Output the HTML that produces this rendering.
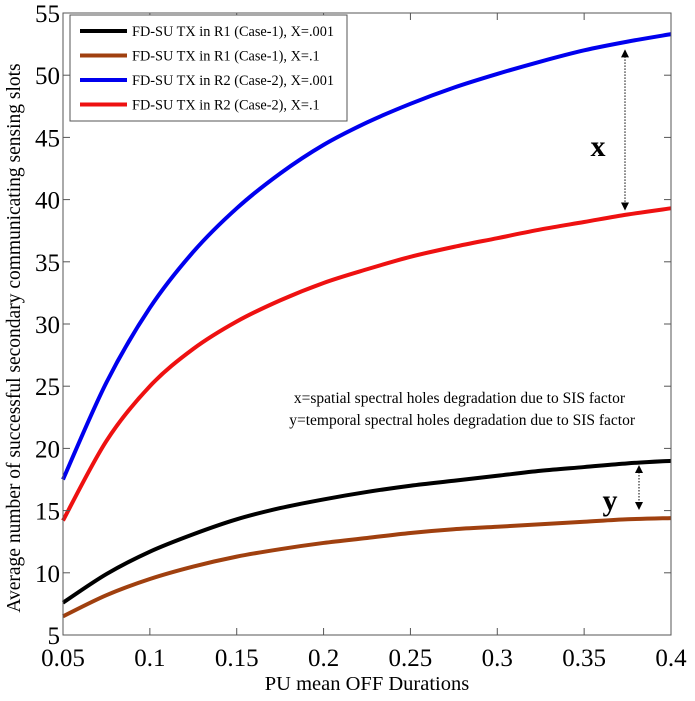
<!DOCTYPE html>
<html><head><meta charset="utf-8"><style>
body{margin:0;background:#fff}
svg{font-family:"Liberation Serif",serif}
</style></head><body>
<svg id="chart" width="695" height="696">
<g id="grid"></g><g id="series"></g><g id="axes"></g>
</svg>
<script>
const xVals=[0.05,0.075,0.1,0.125,0.15,0.175,0.2,0.225,0.25,0.275,0.3,0.325,0.35,0.375,0.4];
const blueVals=[17.5,25.3,31.3,35.8,39.3,42.1,44.4,46.2,47.7,49,50.1,51.1,52,52.7,53.3];
const redVals=[14.2,20.6,25,28,30.2,31.9,33.3,34.4,35.4,36.2,36.9,37.6,38.2,38.8,39.3];
const blackVals=[7.6,9.9,11.7,13.1,14.3,15.2,15.9,16.5,17,17.4,17.8,18.2,18.5,18.8,19.0];
const brownVals=[6.5,8.2,9.5,10.5,11.3,11.9,12.4,12.8,13.2,13.5,13.7,13.9,14.1,14.3,14.4];
const xTicks=[0.05,0.1,0.15,0.2,0.25,0.3,0.35,0.4];
const xTickLabels=["0.05","0.1","0.15","0.2","0.25","0.3","0.35","0.4"];
const yTicks=[5,10,15,20,25,30,35,40,45,50,55];
const legendLabels=["FD-SU TX in R1 (Case-1), X=.001","FD-SU TX in R1 (Case-1), X=.1","FD-SU TX in R2 (Case-2), X=.001","FD-SU TX in R2 (Case-2), X=.1"];
const L=63,R=671,T=13,B=635;
const xs=v=>L+(v-0.05)/(0.35)*(R-L);
const ys=v=>B-(v-5)/50*(B-T);
const NS="http://www.w3.org/2000/svg";
const svg=document.getElementById('chart');
function mk(tag,attrs,parent){const e=document.createElementNS(NS,tag);for(const k in attrs)e.setAttribute(k,attrs[k]);(parent||svg).appendChild(e);return e;}
const axes=document.getElementById('axes');
const box=mk('rect',{x:L,y:T,width:R-L,height:B-T,fill:'none',stroke:'#555','stroke-width':1},axes);


xTicks.forEach((t,i)=>{
 const x=xs(t);
 mk('line',{x1:x,x2:x,y1:B,y2:B-7,stroke:'#555'},axes);
 mk('line',{x1:x,x2:x,y1:T,y2:T+7,stroke:'#555'},axes);
 const tx=mk('text',{x:x,y:B+31,'font-size':25,'text-anchor':'middle'},axes);
 tx.textContent=xTickLabels[i];
 
 
});
yTicks.forEach(t=>{
 const y=ys(t);
 mk('line',{x1:L,x2:L+7,y1:y,y2:y,stroke:'#555'},axes);
 mk('line',{x1:R,x2:R-7,y1:y,y2:y,stroke:'#555'},axes);
 const tx=mk('text',{x:L-3,y:y+9,'font-size':25,'text-anchor':'end'},axes);
 tx.textContent=t;
 
 
});
const xt=mk('text',{x:(L+R)/2,y:690,'font-size':20.5,'text-anchor':'middle'},axes);
xt.textContent="PU mean OFF Durations";


const yt=mk('text',{x:0,y:0,'font-size':19.5,'text-anchor':'middle',transform:`translate(20,${(T+B)/2+14}) rotate(-90)`},axes);
yt.textContent="Average number of successful secondary communicating sensing slots";


function pathFrom(vals){
 const p=xVals.map((x,i)=>[xs(x),ys(vals[i])]);
 let d=`M${p[0][0]},${p[0][1]}`;
 for(let i=0;i<p.length-1;i++){
  const p0=p[Math.max(0,i-1)],p1=p[i],p2=p[i+1],p3=p[Math.min(p.length-1,i+2)];
  const c1=[p1[0]+(p2[0]-p0[0])/6,p1[1]+(p2[1]-p0[1])/6];
  const c2=[p2[0]-(p3[0]-p1[0])/6,p2[1]-(p3[1]-p1[1])/6];
  d+=` C${c1[0]},${c1[1]} ${c2[0]},${c2[1]} ${p2[0]},${p2[1]}`;
 }
 return d;
}
const seriesG=document.getElementById('series');
const seriesList=[[blackVals,'#000','series-r1-x001'],[brownVals,'#a0400f','series-r1-x1'],[blueVals,'#0000ee','series-r2-x001'],[redVals,'#ee1111','series-r2-x1']];
seriesList.forEach(s=>{
 const p=mk('path',{d:pathFrom(s[0]),fill:'none',stroke:s[1],'stroke-width':4},seriesG);
 
 
});
const lg=mk('g',{});


mk('rect',{x:70,y:15,width:277,height:106,fill:'#fff',stroke:'#555'},lg);
legendLabels.forEach((lab,i)=>{
 const y=31+i*24.5;
 mk('line',{x1:80,x2:127,y1:y,y2:y,stroke:seriesList[i][1],'stroke-width':4},lg);
 const t=mk('text',{x:132,y:y+5,'font-size':14.3},lg);
 t.textContent=lab;
 
 
});
const defs=mk('defs',{});
const mrk=mk('marker',{id:'ah',markerWidth:8,markerHeight:8,refX:7,refY:4,orient:'auto-start-reverse'},defs);
mk('path',{d:'M0,0 L8,4 L0,8 Z',fill:'#000'},mrk);
const a1=mk('line',{x1:625,x2:625,y1:ys(52),y2:ys(39.2),stroke:'#000','stroke-dasharray':'1.5,1.5','marker-start':'url(#ah)','marker-end':'url(#ah)'});


const a2=mk('line',{x1:639,x2:639,y1:466,y2:509,stroke:'#000','stroke-dasharray':'1.5,1.5','marker-start':'url(#ah)','marker-end':'url(#ah)'});


const lx=mk('text',{x:598,y:156,'font-size':30,'font-weight':'bold','text-anchor':'middle'});
lx.textContent='x';


const ly=mk('text',{x:610,y:510,'font-size':30,'font-weight':'bold','text-anchor':'middle'});
ly.textContent='y';


const n1=mk('text',{x:625,y:403,'font-size':15.5,'text-anchor':'end'});
n1.textContent='x=spatial spectral holes degradation due to SIS factor';


const n2=mk('text',{x:635,y:425,'font-size':15.5,'text-anchor':'end'});
n2.textContent='y=temporal spectral holes degradation due to SIS factor';


</script>
</body></html>
